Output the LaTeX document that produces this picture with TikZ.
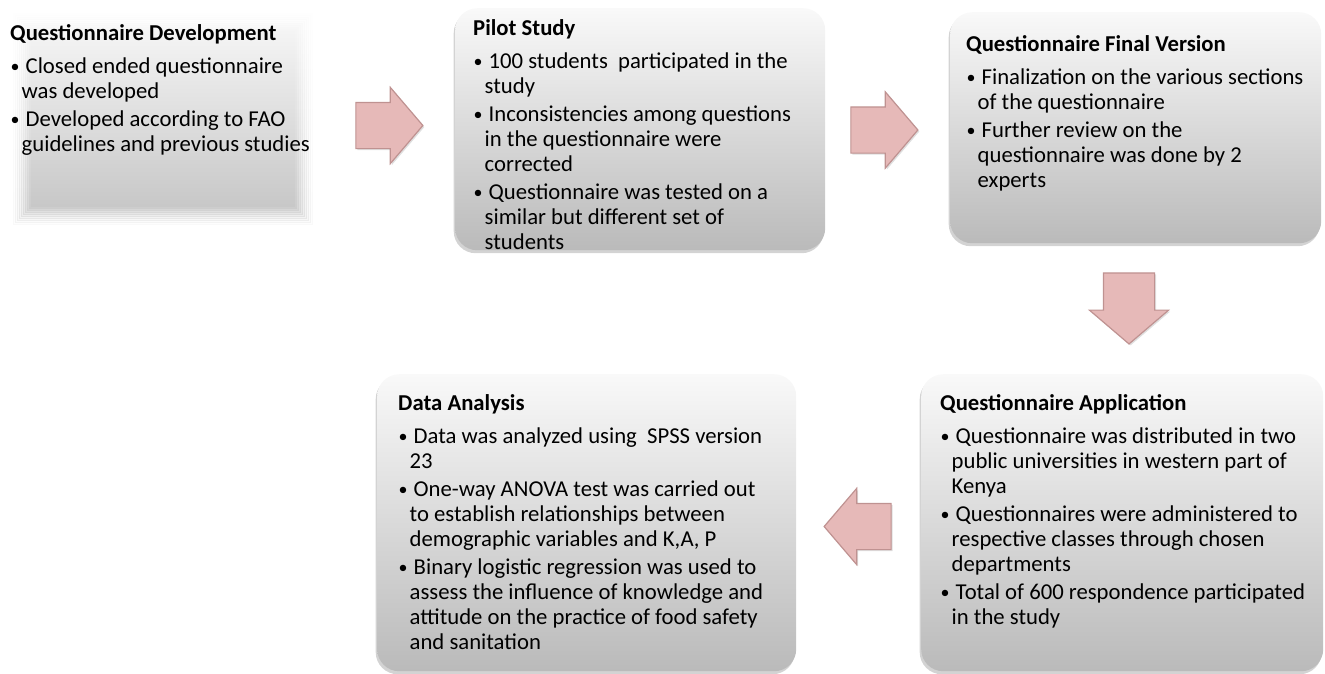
\documentclass[tikz,border=0pt]{standalone}
\usepackage{fontspec}
\setmainfont{Carlito}
\usetikzlibrary{shapes.arrows,shadows}
\definecolor{arrowfill}{HTML}{E6B9B8}
\definecolor{arrowedge}{HTML}{BF9291}
\definecolor{boxtop}{HTML}{F9F9F9}
\definecolor{boxbot}{HTML}{BABABA}
\newcommand\bitm[1]{\par\hangindent=11.5pt\hangafter=1\noindent\makebox[15.5pt][l]{\hspace{0.5pt}\raisebox{1pt}{\fontsize{18pt}{18pt}\selectfont •}}#1}
\newcommand\blocktext[2]{\begin{minipage}[t]{440pt}\fontsize{22.7pt}{25pt}\selectfont\setlength\parskip{3pt}\noindent\textbf{#1}\par\vspace{5pt}#2\end{minipage}}
\tikzset{
  rbox/.style={rounded corners=22pt, top color=boxtop, bottom color=boxbot,
    drop shadow={shadow xshift=-1.5pt, shadow yshift=-3pt, opacity=.35},
    anchor=north west, inner sep=0pt},
  txt/.style={anchor=base west, inner sep=0pt},
  softframe/.style={draw=white, line width=2.2pt},
  blockarrow/.style={single arrow, fill=arrowfill, draw=arrowedge, line width=1.2pt,
    minimum height=67pt, inner xsep=0pt, inner ysep=22.5pt,
    single arrow head extend=15pt, single arrow tip angle=99,
    drop shadow={shadow xshift=1.5pt, shadow yshift=-1.5pt, opacity=.25}}
}
\begin{document}
\begin{tikzpicture}[x=1pt,y=-1pt]
\useasboundingbox (0,0) rectangle (1325,673);
% box 1 (soft edged)
\shade[top color=white!98!black, bottom color=black!24] (8,8) rectangle (318,230);
\draw[draw=white, line width=5pt] (8,8) rectangle (318,230);
\foreach \i in {0,...,9}{
  \pgfmathsetmacro\op{1-\i/10}
  \draw[softframe, draw opacity=\op] (11.5+2*\i,11.5+2*\i) rectangle (314.5-2*\i,226.5-2*\i);
}
\node[txt] (t1) at (10,40) {\blocktext{Questionnaire Development}{%
  \bitm{Closed ended questionnaire\newline was developed}%
  \bitm{Developed according to FAO\newline guidelines and previous studies}}};
% box 2
\node[rbox, minimum width=370pt, minimum height=242pt] (b2) at (455,8) {};
\node[txt] (t2) at (473,35) {\blocktext{Pilot Study}{%
  \bitm{100 students\ \ participated in the\newline study}%
  \bitm{Inconsistencies among questions\newline in the questionnaire were\newline corrected}%
  \bitm{Questionnaire was tested on a\newline similar but different set of\newline students}}};
% box 3
\node[rbox, minimum width=371pt, minimum height=231pt] (b3) at (950,12) {};
\node[txt] (t3) at (966,51) {\blocktext{Questionnaire Final Version}{%
  \bitm{Finalization on the various sections\newline of the questionnaire}%
  \bitm{Further review on the\newline questionnaire was done by 2\newline experts}}};
% box 4
\node[rbox, minimum width=402pt, minimum height=297pt] (b4) at (921,374) {};
\node[txt] (t4) at (940,410) {\blocktext{Questionnaire Application}{%
  \bitm{Questionnaire was distributed in two\newline public universities in western part of\newline Kenya}%
  \bitm{Questionnaires were administered to\newline respective classes through chosen\newline departments}%
  \bitm{Total of 600 respondence participated\newline in the study}}};
% box 5
\node[rbox, minimum width=419pt, minimum height=297pt] (b5) at (377,374) {};
\node[txt] (t5) at (398,410) {\blocktext{Data Analysis}{%
  \bitm{Data was analyzed using\ \ SPSS version\newline 23}%
  \bitm{One-way ANOVA test was carried out\newline to establish relationships between\newline demographic variables and K,A, P}%
  \bitm{Binary logistic regression was used to\newline assess the influence of knowledge and\newline attitude on the practice of food safety\newline and sanitation}}};
% arrows
\node[blockarrow] (a1) at (379.5,125.5) {};
\node[blockarrow] (a2) at (874.5,130) {};
\node[blockarrow, rotate=-90, minimum height=71pt, inner ysep=25pt, single arrow head extend=14pt] (a3) at (1129,297.5) {};
\node[blockarrow, rotate=180] (a4) at (867.5,526.5) {};
\end{tikzpicture}
\end{document}
